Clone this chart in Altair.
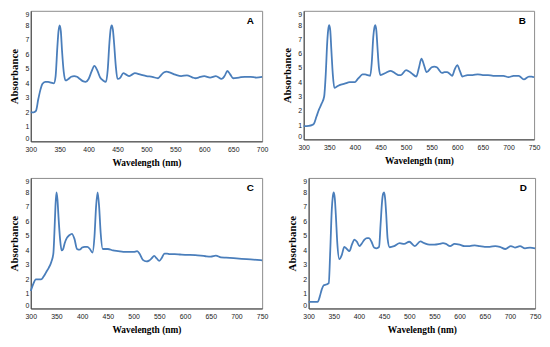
import altair as alt
import pandas as pd

# ---------------- data ----------------
wl_A = [300, 305, 309, 313, 317, 320, 325, 330, 335, 340, 343, 346, 348, 350, 352, 354, 357, 360, 365, 370,
        375, 380, 385, 390, 395, 400, 405, 410, 415, 420, 425, 430, 433, 436, 438, 440, 442, 444, 447, 450,
        455, 460, 465, 470, 475, 480, 490, 500, 510, 520, 525, 530, 535, 540, 550, 560, 570, 580, 585, 590,
        600, 610, 620, 630, 635, 640, 645, 650, 660, 670, 680, 690, 700]
abs_A = [2.0, 2.0, 2.1, 2.9, 3.6, 3.95, 4.1, 4.1, 4.05, 4.0, 4.5, 6.5, 7.6, 8.0, 7.6, 6.3, 4.8, 4.2, 4.3, 4.45,
         4.5, 4.45, 4.3, 4.15, 4.1, 4.3, 4.8, 5.2, 4.9, 4.4, 4.2, 4.1, 4.9, 6.8, 7.7, 8.0, 7.7, 6.8, 5.2, 4.3,
         4.4, 4.7, 4.6, 4.5, 4.6, 4.7, 4.6, 4.5, 4.45, 4.35, 4.55, 4.75, 4.8, 4.75, 4.6, 4.5, 4.55, 4.4, 4.35, 4.4,
         4.5, 4.4, 4.5, 4.3, 4.5, 4.85, 4.6, 4.35, 4.4, 4.45, 4.45, 4.4, 4.45]

wl_B = [300, 310, 316, 320, 325, 330, 335, 340, 343, 346, 348, 350, 352, 354, 357, 360, 365, 370, 380, 390,
        400, 405, 410, 415, 420, 425, 430, 433, 436, 438, 440, 442, 444, 447, 450, 460, 470, 480, 485, 490,
        500, 510, 520, 525, 530, 535, 540, 550, 555, 560, 570, 575, 580, 585, 590, 595, 600, 605, 610, 620,
        630, 640, 650, 660, 670, 680, 690, 700, 710, 720, 730, 740, 745, 750]
abs_B = [0.93, 0.95, 1.0, 1.1, 1.6, 2.1, 2.5, 3.0, 4.5, 6.8, 7.7, 8.0, 7.6, 6.3, 4.5, 3.6, 3.7, 3.8, 3.9, 4.0,
         4.0, 4.2, 4.4, 4.55, 4.55, 4.5, 4.45, 5.4, 7.2, 7.8, 8.0, 7.6, 6.5, 5.0, 4.5, 4.65, 4.8, 4.6, 4.5, 4.5,
         4.85, 4.65, 4.4, 5.0, 5.65, 5.2, 4.7, 5.05, 5.1, 5.05, 4.65, 4.7, 4.7, 4.6, 4.45, 4.9, 5.2, 4.8, 4.4, 4.5,
         4.5, 4.55, 4.5, 4.5, 4.45, 4.45, 4.45, 4.35, 4.45, 4.45, 4.2, 4.4, 4.4, 4.35]

wl_C = [300, 305, 310, 315, 320, 325, 330, 335, 340, 344, 346, 348, 350, 352, 354, 357, 360, 363, 366, 370,
        375, 380, 385, 390, 395, 400, 405, 410, 415, 420, 424, 427, 430, 433, 436, 440, 450, 460, 470, 480,
        490, 500, 507, 512, 518, 525, 530, 535, 540, 545, 550, 555, 560, 565, 570, 580, 590, 600, 620, 640,
        650, 660, 670, 680, 700, 720, 740, 750]
abs_C = [1.2, 1.7, 2.0, 2.0, 2.0, 2.2, 2.5, 2.8, 3.2, 3.8, 5.2, 7.0, 8.0, 7.5, 6.3, 4.8, 4.0, 4.1, 4.5, 4.85,
         5.05, 5.15, 4.8, 4.1, 4.05, 4.2, 4.25, 4.25, 4.1, 3.85, 5.0, 7.0, 8.0, 7.0, 5.2, 4.1, 4.1, 4.0, 3.95, 3.9,
         3.9, 3.9, 3.95, 3.75, 3.35, 3.25, 3.3, 3.45, 3.62, 3.45, 3.28, 3.5, 3.78, 3.78, 3.75, 3.74, 3.72, 3.7, 3.68, 3.6,
         3.58, 3.65, 3.52, 3.5, 3.45, 3.4, 3.35, 3.32]

wl_D = [300, 310, 318, 322, 326, 330, 335, 340, 343, 346, 348, 350, 352, 354, 357, 361, 366, 371, 376, 381,
        386, 391, 396, 401, 406, 411, 416, 420, 425, 430, 435, 440, 443, 446, 448, 450, 452, 454, 457, 461,
        470, 481, 490, 500, 511, 522, 530, 540, 550, 560, 567, 573, 581, 590, 600, 610, 620, 630, 640, 650,
        660, 671, 680, 691, 702, 710, 720, 730, 740, 750]
abs_D = [0.45, 0.45, 0.45, 0.8, 1.3, 1.6, 1.65, 1.75, 4.0, 6.8, 7.7, 8.0, 7.6, 6.5, 4.5, 3.4, 3.7, 4.25, 4.1, 3.95,
         4.4, 4.75, 4.6, 4.3, 4.5, 4.75, 4.85, 4.85, 4.6, 4.2, 4.15, 4.25, 5.8, 7.4, 7.9, 8.0, 7.6, 6.6, 4.8, 4.22,
         4.3, 4.5, 4.45, 4.6, 4.3, 4.62, 4.5, 4.4, 4.4, 4.45, 4.5, 4.45, 4.3, 4.45, 4.4, 4.3, 4.3, 4.35, 4.3, 4.25,
         4.25, 4.3, 4.25, 4.1, 4.3, 4.2, 4.3, 4.15, 4.2, 4.15]

y_ticks = [0, 1, 2, 3, 4, 5, 6, 7, 8, 9]
x_title = "Wavelength  (nm)"
y_title = "Absorbance"

LINE = "#4a7ebb"
SERIF = "Liberation Serif, Times New Roman, DejaVu Serif, serif"
SANS = "Liberation Sans, Arial, sans-serif"


def panel(wl, ab, letter, xmax, w, h):
    df = pd.DataFrame({"wl": wl, "ab": ab})
    xt = list(range(300, xmax + 1, 50))
    line = alt.Chart(df).mark_line(color=LINE, strokeWidth=1.8, interpolate="monotone").encode(
        x=alt.X("wl:Q", scale=alt.Scale(domain=[300, xmax], nice=False, zero=False),
                axis=alt.Axis(values=xt, title=x_title, format="d", labelFlush=False)),
        y=alt.Y("ab:Q", scale=alt.Scale(domain=[0, 9], nice=False),
                axis=alt.Axis(values=y_ticks, title=y_title, format="d", labelFlush=True)),
    )
    lab = alt.Chart(pd.DataFrame({"t": [letter]})).mark_text(
        font=SANS, fontWeight="bold", fontSize=10, color="black"
    ).encode(text="t:N", x=alt.value(w - 12), y=alt.value(10))
    return alt.layer(line, lab).properties(width=w, height=h)


pA = panel(wl_A, abs_A, "A", 700, 234, 132)
pB = panel(wl_B, abs_B, "B", 750, 233, 130)
pC = panel(wl_C, abs_C, "C", 750, 234, 132)
pD = panel(wl_D, abs_D, "D", 750, 229, 132)

chart = alt.vconcat(
    alt.hconcat(pA, pB, spacing=12),
    alt.hconcat(pC, pD, spacing=17),
    spacing=10,
).properties(
    padding={"left": 0, "top": 0, "right": 0, "bottom": 0},
    background="white",
).configure_view(
    stroke="#8c8c8c", strokeWidth=1
).configure_axis(
    grid=False, ticks=False, domainColor="#444444", domainWidth=1,
    labelFont=SANS, labelFontSize=7, labelColor="#222222", labelPadding=3,
    titleFont=SERIF, titleFontWeight="bold", titleFontSize=11, titleColor="black",
).configure_axisY(titlePadding=5, labelPadding=2).configure_axisX(
    titlePadding=5, labelPadding=4, titleFontSize=9.5)

chart.save("out.html", embed_options={"renderer": "svg", "actions": False})
